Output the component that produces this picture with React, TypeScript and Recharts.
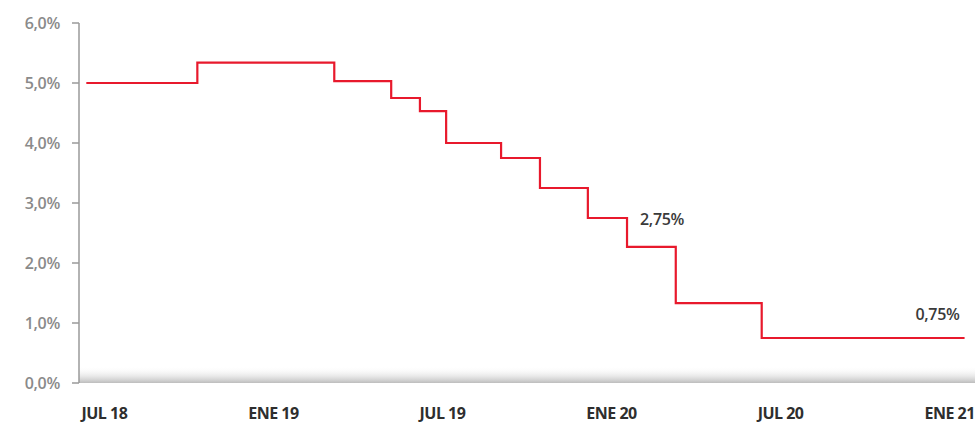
import React from "react";
import {
  LineChart,
  Line,
  XAxis,
  YAxis,
  ReferenceArea,
  ReferenceDot,
} from "recharts";

// meses desde JUL 18 (0) en que cambia la tasa
const stepMonths = [
  -0.64, 3.3, 8.16, 10.18, 11.2, 12.13, 14.08, 15.46, 17.16, 18.55, 20.28,
  23.33, 30.53,
];
const rates = [
  5.0, 5.34, 5.03, 4.75, 4.53, 4.0, 3.75, 3.25, 2.75, 2.27, 1.33, 0.75, 0.75,
];

const xTicks = [0, 6, 12, 18, 24, 30];
const xLabels = ["JUL 18", "ENE 19", "JUL 19", "ENE 20", "JUL 20", "ENE 21"];
const yTicks = [0, 1, 2, 3, 4, 5, 6];

const annotations = [
  { x: 18.55, y: 2.75, text: "2,75%", anchor: "start", dx: 13, dy: 1 },
  { x: 30.53, y: 0.75, text: "0,75%", anchor: "end", dx: -5, dy: -24 },
];

const data = stepMonths.map((m, i) => ({ m, rate: rates[i] }));

const FONT = "'Open Sans', 'Noto Sans', sans-serif";

function AnnotationLabel(props: any) {
  const { viewBox, text, anchor, dx, dy } = props;
  const cx = viewBox.x + (viewBox.width || 0) / 2;
  const cy = viewBox.y + (viewBox.height || 0) / 2;
  return (
    <text
      x={cx + dx}
      y={cy + dy}
      textAnchor={anchor}
      dominantBaseline="central"
      fill="#3a3a3a"
      fontSize={16}
      fontWeight={600}
      fontFamily={FONT}
      letterSpacing={-0.3}
    >
      {text}
    </text>
  );
}

export default function App() {
  return (
    <div style={{ position: "fixed", left: 0, top: 0, background: "#fff" }}>
      <LineChart
        width={979}
        height={423}
        data={data}
        margin={{ top: 23, right: 4, bottom: 0, left: 0 }}
      >
        <defs>
          <linearGradient id="floorShade" x1="0" y1="0" x2="0" y2="1">
            <stop offset="0%" stopColor="#ffffff" stopOpacity={0} />
            <stop offset="100%" stopColor="#bdbdbd" stopOpacity={1} />
          </linearGradient>
        </defs>
        <XAxis
          type="number"
          dataKey="m"
          domain={[-0.9, 30.9]}
          ticks={xTicks}
          tickFormatter={(v: number) => xLabels[xTicks.indexOf(v)]}
          axisLine={false}
          tickLine={false}
          tickMargin={19}
          height={40}
          tick={{
            fill: "#2e2e2e",
            fontSize: 16,
            fontWeight: 700,
            fontFamily: FONT,
            letterSpacing: -0.5,
          }}
        />
        <YAxis
          type="number"
          domain={[0, 6]}
          ticks={yTicks}
          tickFormatter={(v: number) => `${v},0%`}
          width={79}
          tickSize={7}
          tickMargin={12}
          axisLine={{ stroke: "#9a9a9a", strokeWidth: 1.5 }}
          tickLine={{ stroke: "#9a9a9a", strokeWidth: 1.5 }}
          tick={{
            fill: "#8a8a8a",
            fontSize: 16,
            fontWeight: 600,
            fontFamily: FONT,
            letterSpacing: -0.3,
          }}
        />
        <ReferenceArea
          x1={-0.9}
          x2={30.9}
          y1={0}
          y2={0.28}
          fill="url(#floorShade)"
          fillOpacity={1}
          stroke="none"
          ifOverflow="visible"
        />
        <Line
          type="stepAfter"
          dataKey="rate"
          stroke="#e8192c"
          strokeWidth={2.2}
          dot={false}
          activeDot={false}
          isAnimationActive={false}
        />
        {annotations.map((a) => (
          <ReferenceDot
            key={a.text}
            x={a.x}
            y={a.y}
            r={0}
            fill="none"
            stroke="none"
            label={(p: any) => (
              <AnnotationLabel
                {...p}
                text={a.text}
                anchor={a.anchor}
                dx={a.dx}
                dy={a.dy}
              />
            )}
          />
        ))}
      </LineChart>
    </div>
  );
}
